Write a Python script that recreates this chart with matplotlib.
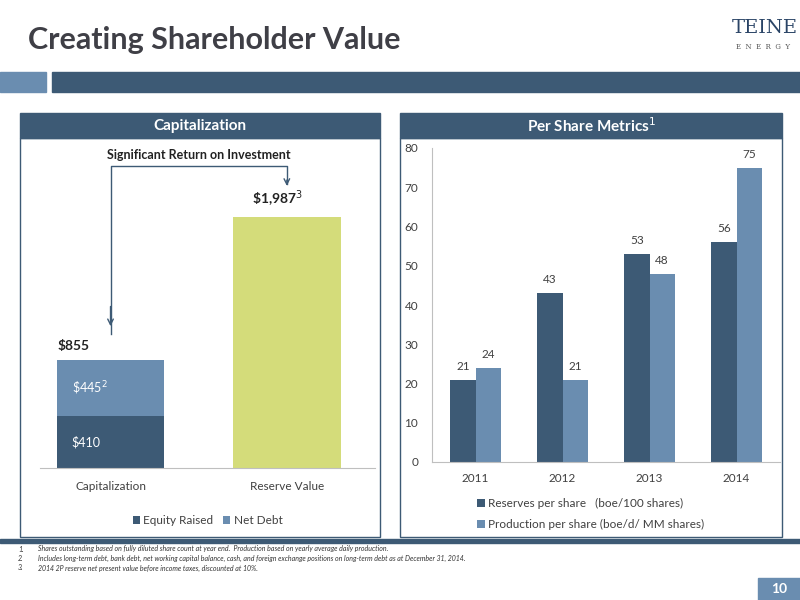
import matplotlib
matplotlib.use("Agg")
import matplotlib.pyplot as plt
from matplotlib.patches import Rectangle

plt.rcParams['font.family'] = ['Lato', 'DejaVu Sans']

cap_categories = ["Capitalization", "Reserve Value"]
equity_raised = [410, 0]
net_debt = [445, 0]
reserve_value = [0, 1987]

years = ["2011", "2012", "2013", "2014"]
reserves_per_share = [21, 43, 53, 56]
production_per_share = [24, 21, 48, 75]

DARK = "#3D5A75"
LIGHT = "#6A8DB0"
GREEN = "#D4DC7A"
W, H = 800, 600

fig = plt.figure(figsize=(8, 6), dpi=100)
fig.patch.set_facecolor("white")

def fx(x): return x / W
def fy(y): return 1 - y / H
def rect(x0, y0, x1, y1, **kw):
    fig.patches.append(Rectangle((fx(x0), fy(y1)), fx(x1 - x0), (y1 - y0) / H,
                                 transform=fig.transFigure, **kw))

# title and logo
fig.text(fx(28), fy(40), "Creating Shareholder Value", fontsize=22, fontweight="bold",
         color="#3F3F46", va="center")
fig.text(fx(732), fy(28), "TEINE", fontsize=14, color="#2A4466", family="DejaVu Serif", va="center")
fig.text(fx(736), fy(47), "E  N  E  R  G  Y", fontsize=5, color="#555555", family="DejaVu Serif", va="center")

# band
rect(0, 72, 46, 92, color=LIGHT)
rect(52, 72, 800, 92, color=DARK)

# panel headers and boxes
for (x0, x1, t) in [(20, 380, "Capitalization"), (400, 782, "Per Share Metrics$^1$")]:
    rect(x0, 113, x1, 138, color=DARK)
    fig.text(fx((x0 + x1) / 2), fy(126), t, color="white", fontsize=11, fontweight="bold",
             ha="center", va="center")
    rect(x0, 138, x1, 537, fill=False, edgecolor=DARK, linewidth=1)

rect(0, 539, 800, 543, color=DARK)
foot = ["Shares outstanding based on fully diluted share count at year end.  Production based on yearly average daily production.",
        "Includes long-term debt, bank debt, net working capital balance, cash, and foreign exchange positions on long-term debt as at December 31, 2014.",
        "2014 2P reserve net present value before income taxes, discounted at 10%."]
for i, t in enumerate(foot):
    fig.text(fx(18), fy(549 + 9.5 * i), f"{i+1}.", fontsize=5, style="italic", color="#333333", va="center")
    fig.text(fx(38), fy(549 + 9.5 * i), t, fontsize=5, style="italic", color="#333333", va="center")
rect(758, 578, 800, 600, color=LIGHT)
fig.text(fx(779), fy(589), "10", color="white", fontsize=10, fontweight="bold", ha="center", va="center")

# left chart
ax = fig.add_axes([fx(40), fy(468), fx(335), 316 / H])
x = range(len(cap_categories))
bw = 0.61
ax.bar(x, equity_raised, bw, color=DARK, label="Equity Raised")
ax.bar(x, net_debt, bw, bottom=equity_raised, color=LIGHT, label="Net Debt")
ax.bar(x, reserve_value, bw, color=GREEN)
ax.set_xlim(-0.4, 1.5)
ax.set_ylim(0, 2500)
ax.set_yticks([])
ax.set_xticks(list(x))
ax.set_xticklabels(cap_categories, fontsize=8.5, color="#404040")
ax.tick_params(axis="x", length=0, pad=9)
for s in ["top", "left", "right"]:
    ax.spines[s].set_visible(False)
ax.spines["bottom"].set_color("#BFBFBF")
ax.text(0 - 0.22, equity_raised[0] / 2, f"\\${equity_raised[0]}", color="white", fontsize=9, va="center")
ax.text(0 - 0.22, equity_raised[0] + net_debt[0] / 2, f"\\${net_debt[0]}$^2$", color="white", fontsize=9, va="center")
tot = equity_raised[0] + net_debt[0]
ax.text(0 - 0.3, tot + 60, f"\\${tot}", fontsize=10, fontweight="bold", color="#222222", va="bottom")
ax.text(1 - 0.2, reserve_value[1] + 60, f"\\${reserve_value[1]:,}$^3$", fontsize=10, fontweight="bold",
        color="#222222", va="bottom")
ax.text(0.5, 2480, "Significant Return on Investment", fontsize=9, fontweight="bold", ha="center",
        va="center", color="#222222")
ax.plot([0, 0, 1, 1], [1060, 2390, 2390, 2250], color=DARK, lw=1, clip_on=False)
ax.annotate("", xy=(0, 1100), xytext=(0, 1300), arrowprops=dict(arrowstyle="->", color=DARK, lw=1))
ax.annotate("", xy=(1, 2210), xytext=(1, 2300), arrowprops=dict(arrowstyle="->", color=DARK, lw=1))
ax.legend(loc="upper center", bbox_to_anchor=(0.5, -0.115), ncol=2, frameon=False, fontsize=8.5,
          handlelength=0.6, handletextpad=0.3, columnspacing=0.8, labelcolor="#404040")

# right chart
ax2 = fig.add_axes([fx(432), fy(462), fx(348), 314 / H])
xs = range(len(years))
w = 0.29
b1 = ax2.bar([i - w / 2 for i in xs], reserves_per_share, w, color=DARK,
             label="Reserves per share   (boe/100 shares)")
b2 = ax2.bar([i + w / 2 for i in xs], production_per_share, w, color=LIGHT,
             label="Production per share (boe/d/ MM shares)")
for bars in (b1, b2):
    for r in bars:
        ax2.text(r.get_x() + r.get_width() / 2, r.get_height() + 2, f"{r.get_height():.0f}",
                 ha="center", va="bottom", fontsize=8.5, color="#404040")
ax2.set_xlim(-0.5, 3.5)
ax2.set_ylim(0, 80)
ax2.set_yticks(range(0, 81, 10))
ax2.set_xticks(list(xs))
ax2.set_xticklabels(years)
ax2.tick_params(labelsize=8.5, colors="#404040", length=0)
ax2.tick_params(axis="x", pad=8)
ax2.tick_params(axis="y", pad=10)
for s in ["top", "right"]:
    ax2.spines[s].set_visible(False)
for s in ["left", "bottom"]:
    ax2.spines[s].set_color("#BFBFBF")
ax2.legend(loc="upper left", bbox_to_anchor=(0.1, -0.08), ncol=1, frameon=False, fontsize=8.5,
           handlelength=0.6, handletextpad=0.3, labelspacing=0.9, labelcolor="#404040")

fig.savefig("out.png", dpi=100)
